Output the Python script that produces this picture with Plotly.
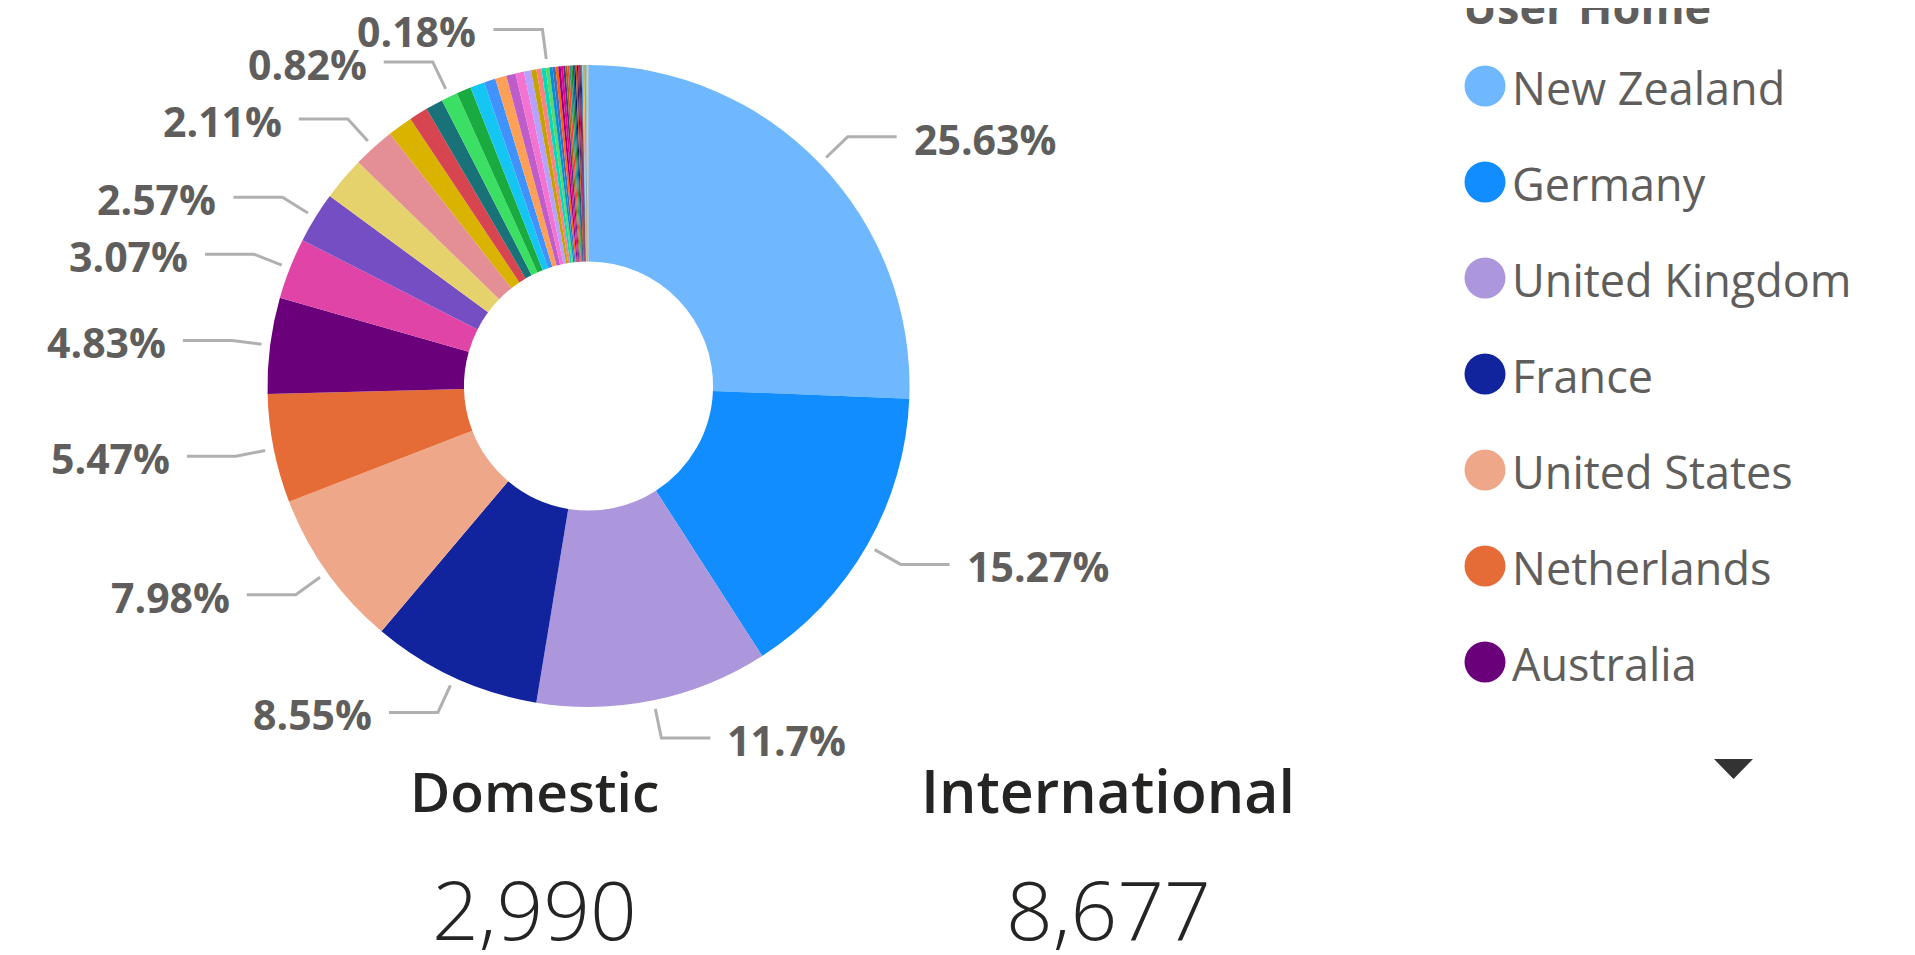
import math
import plotly.graph_objects as go

# ---------------- data ----------------
categories = [
    "New Zealand", "Germany", "United Kingdom", "France", "United States",
    "Netherlands", "Australia", "Canada", "China", "Switzerland", "India",
    "Japan", "Sweden", "Denmark", "Belgium", "Austria", "Ireland", "Singapore",
    "Italy", "Spain", "South Korea", "Israel", "Czech Republic", "Norway",
    "Finland", "Hong Kong", "Brazil", "South Africa", "Argentina", "Poland",
    "Malaysia", "Taiwan", "Mexico", "Russia", "Chile", "Thailand", "Portugal",
    "Philippines", "Indonesia", "Hungary", "Vietnam", "Greece", "Turkey",
    "Fiji", "Estonia", "Slovakia", "Romania", "Luxembourg", "Iceland",
    "Ukraine", "Colombia", "Peru", "Croatia", "Slovenia", "Lithuania",
    "Latvia", "Bulgaria", "Serbia", "Uruguay", "Samoa", "Tonga",
]
counts = [
    2990, 1782, 1365, 998, 931, 638, 564, 358, 300, 256, 246,
    147, 110, 102, 96, 85, 84, 68, 66, 55, 50, 42, 31, 29, 25, 21,
    19, 17, 16, 15, 14, 13, 12, 11, 10, 9, 9, 8, 8, 7, 7,
    6, 6, 5, 5, 4, 4, 3, 3, 3, 2, 2, 2, 1, 1, 1, 1, 1, 1, 1, 1,
]
colors = [
    "#6FB8FF", "#118DFF", "#AC97DC", "#12239E", "#EFA789", "#E66C37",
    "#6B007B", "#E044A7", "#744EC2", "#E6D26C", "#E48F96", "#D9B300",
    "#D64550", "#197278", "#3ADF64", "#1AAB40", "#15C6F4", "#4092FF",
    "#FFA058", "#BE5DC9", "#F472D0", "#B5A1FF", "#C4A200", "#FF8080",
    "#00DBBC", "#5BD667",
    "#0091D5", "#4668C5", "#FF6300", "#99008A", "#EC008C", "#533285",
    "#99700A", "#FF4141", "#1F9A85", "#25891C", "#0057A2", "#002050",
    "#C94F0F", "#450F54", "#B60064", "#34124F", "#6A1C06", "#0D6ABF",
    "#8AD4EB", "#FD625E", "#F2C80F", "#5F6B6D", "#A66999", "#3599B8",
    "#DFBFBF", "#4AC5BB", "#7F898A", "#FB8281", "#F4D25A", "#A4DDEE",
    "#FDAB89", "#B687AC", "#28738A", "#A9A28F", "#C8C0A8",
]
labeled = [
    "New Zealand", "Germany", "United Kingdom", "France", "United States",
    "Netherlands", "Australia", "Canada", "China", "India", "Belgium", "Hong Kong",
]
legend_items = categories[:7]
legend_title = "User Home"
card_titles = ["Domestic", "International"]
domestic_home = "New Zealand"

# ---------------- layout geometry ----------------
W, H = 1915, 955
OFF = 8  # page body margin
cx, cy, R = 588.5, 386.0, 321.0
HOLE = 0.388

def X(px):
    return (px - OFF) / W

def Y(py):
    return 1 - (py - OFF) / H

LABEL_COLOR = "#605E5C"
FONT = "Open Sans"

total = sum(counts)

fig = go.Figure()
fig.add_trace(go.Pie(
    labels=categories,
    values=counts,
    marker=dict(colors=colors, line=dict(width=0)),
    hole=HOLE,
    sort=False,
    direction="clockwise",
    rotation=0,
    textinfo="none",
    showlegend=False,
    domain=dict(x=[X(cx - R), X(cx + R)], y=[Y(cy + R), Y(cy - R)]),
))

shapes = []
annotations = []

# ---------------- data labels with leader lines ----------------
cum = 0
for name, v in zip(categories, counts):
    mid = (cum + v / 2) / total * 2 * math.pi
    cum += v
    if name not in labeled:
        continue
    s, c = math.sin(mid), math.cos(mid)
    r0, r1 = R * 1.027, R * 1.12
    x0, y0 = cx + r0 * s, cy - r0 * c
    x1, y1 = cx + r1 * s, cy - r1 * c
    side = 1 if s > 0 else -1
    x2 = x1 + side * 49
    shapes.append(dict(
        type="path", xref="paper", yref="paper",
        path=f"M {X(x0)},{Y(y0)} L {X(x1)},{Y(y1)} L {X(x2)},{Y(y1)}",
        line=dict(color="#B0B0B0", width=3),
    ))
    pct = f"{v / total * 100:.2f}".rstrip("0").rstrip(".") + "%"
    annotations.append(dict(
        x=X(x2 + side * 15), y=Y(y1 + 2), xref="paper", yref="paper",
        text=pct, showarrow=False,
        xanchor="left" if side > 0 else "right", yanchor="middle",
        font=dict(family=FONT, size=41, color=LABEL_COLOR, weight="bold"),
    ))

# ---------------- legend (manual, Power BI style) ----------------
annotations.append(dict(
    x=X(1461), y=Y(6), xref="paper", yref="paper", text=legend_title,
    showarrow=False, xanchor="left", yanchor="middle",
    font=dict(family=FONT, size=45, color=LABEL_COLOR, weight="bold"),
))
for i, name in enumerate(legend_items):
    yc = 86 + i * 96
    col = colors[categories.index(name)]
    shapes.append(dict(
        type="circle", xref="paper", yref="paper",
        x0=X(1464.5), x1=X(1505.5), y0=Y(yc - 20.5), y1=Y(yc + 20.5),
        fillcolor=col, line=dict(width=0),
    ))
    annotations.append(dict(
        x=X(1510), y=Y(yc + 1), xref="paper", yref="paper", text=name,
        showarrow=False, xanchor="left", yanchor="middle",
        font=dict(family=FONT, size=45, color=LABEL_COLOR),
    ))

# scroll-down arrow of the legend
shapes.append(dict(
    type="path", xref="paper", yref="paper",
    path=f"M {X(1714)},{Y(759)} L {X(1753)},{Y(759)} L {X(1733.5)},{Y(779)} Z",
    fillcolor="#333333", line=dict(width=0),
))

# ---------------- cards ----------------
domestic = sum(v for n, v in zip(categories, counts) if n == domestic_home)
international = total - domestic
card_values = [domestic, international]
card_x = [534, 1108]
card_title_sizes = [55, 59]
for t, v, x, fs in zip(card_titles, card_values, card_x, card_title_sizes):
    annotations.append(dict(
        x=X(x), y=Y(790), xref="paper", yref="paper", text=t,
        showarrow=False, xanchor="center", yanchor="middle",
        font=dict(family=FONT, size=fs, color="#252423", weight=600),
    ))
    annotations.append(dict(
        x=X(x), y=Y(908), xref="paper", yref="paper", text=f"{v:,}",
        showarrow=False, xanchor="center", yanchor="middle",
        font=dict(family=FONT, size=82, color="#252423", weight=300),
    ))

fig.update_layout(
    width=W, height=H,
    margin=dict(l=0, r=0, t=0, b=0),
    paper_bgcolor="white", plot_bgcolor="white",
    shapes=shapes, annotations=annotations,
    showlegend=False,
)

fig.write_html("out.html")
